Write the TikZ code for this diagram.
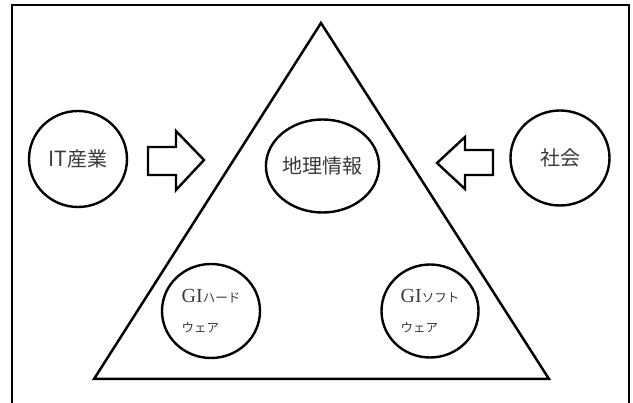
\documentclass[tikz,border=0pt]{standalone}
\usepackage{fontspec}
\newfontfamily\jpfont{Noto Sans CJK JP}
\newfontfamily\gifont{Liberation Serif}
\usetikzlibrary{shapes.geometric}
\definecolor{txt}{HTML}{3A3A3A}
\tikzset{
  bubble/.style={ellipse, draw=black, line width=2.4pt, inner sep=0pt, text=txt, font=\jpfont\fontsize{20}{22}\selectfont},
  blockarrow/.style={draw=black, line width=2.4pt, fill=white, line join=miter},
  frame/.style={draw=black, line width=1.8pt},
  tri/.style={draw=black, line width=2.5pt, line join=miter}
}
\begin{document}
\begin{tikzpicture}[x=1pt,y=-1pt]
\useasboundingbox (0,0) rectangle (633,403);
\fill[white] (0,0) rectangle (633,403);
% frame (bottom edge outside the picture)
\draw[frame] (12,410) -- (12,5) -- (629,5) -- (629,410);
% triangle
\coordinate (apex) at (321,23);
\coordinate (bl) at (94,379);
\coordinate (br) at (549,379);
\draw[tri] (apex) -- (bl) -- (br) -- cycle;
% circles
\node[bubble, minimum width=98pt, minimum height=96pt] (it) at (78,159) {{\fontsize{21}{22}\selectfont IT}産業};
\node[bubble, minimum width=97pt, minimum height=93pt] (geo) at (322.5,166) {地理情報};
\node[bubble, minimum width=99pt, minimum height=95pt] (soc) at (560,158) {社会};
\node[bubble, minimum width=98pt, minimum height=94pt, align=left] (hw) at (211,311)
  {{\gifont\fontsize{20}{20}\selectfont GI}{\fontsize{12.5}{12.5}\selectfont ハード}\\[8pt]{\fontsize{12.5}{12.5}\selectfont ウェア}\hspace{2.2em}};
\node[bubble, minimum width=97pt, minimum height=93pt, align=left] (sw) at (430,311)
  {{\gifont\fontsize{20}{20}\selectfont GI}{\fontsize{12.5}{12.5}\selectfont ソフト}\\[8pt]{\fontsize{12.5}{12.5}\selectfont ウェア}\hspace{2.2em}};
% block arrows
\draw[blockarrow] (148,147) -- (176,147) -- (176,131) -- (204,160) -- (176,190) -- (176,175) -- (148,175) -- cycle;
\draw[blockarrow] (493,150) -- (465,150) -- (465,137) -- (437,163) -- (465,189) -- (465,175) -- (493,175) -- cycle;
\end{tikzpicture}
\end{document}
